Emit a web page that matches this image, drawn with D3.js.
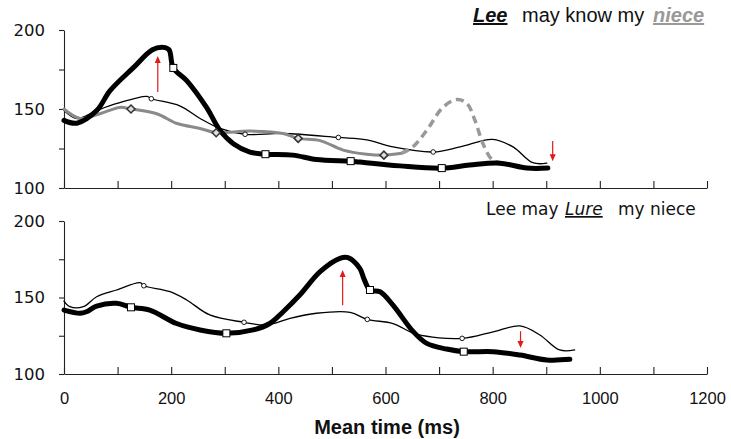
<!DOCTYPE html>
<html><head><meta charset="utf-8">
<script src="https://cdn.jsdelivr.net/npm/d3@7"></script>
<style>
body{margin:0;background:#fff;}
svg{display:block;}
</style></head>
<body><svg id="c" width="731" height="439"></svg>
<script>
// ---------- DATA ----------
const xTicks = [0,100,200,300,400,500,600,700,800,900,1000,1100,1200];
const xTickLabels = [0,200,400,600,800,1000,1200];
const yTicks = [100,125,150,175,200];
const yTickLabels = [100,150,200];

// Top panel: "Lee may know my niece"
const topThickT = [0,24,61,86,129,165,185,196,204,229,266,291,316,347,376,427,471,535,552,627,705,757,813,864,903];
const topThickV = [142.8,141,149,161.6,176,187.5,189,187.5,176,168,151,136.5,128,122.7,121.4,120.8,118,117,116.4,114,112.6,114.5,115.7,112.6,112.6];
const topThinT = [0,24,61,99,155,163,216,254,291,338,409,512,565,614,689,739,800,838,875,901];
const topThinV = [149,144,149,153.5,158,156.5,152,144,137.7,134,134.5,132,130.5,126,122.8,126,130.8,126,116,115.7];
const topGreyT = [0,30,67,104,125,173,211,254,284,347,409,437,478,521,565,597,630];
const topGreyV = [150,144,147,151,150,147,140.8,137.7,135,136,134.5,131.4,130,124,121.4,120.8,122];
const topGreyDashT = [630,651,677,707,733,752,767,782,800,823];
const topGreyDashV = [122,126,136.5,151,156,153.5,142.8,128,117.6,115.7];
const topSquares = [[204,176],[376,121.4],[535,117],[705,112.6]];
const topCircles = [[163,156.5],[338,134],[512,132],[689,122.8]];
const topDiamonds = [[125,150],[284,135],[437,131.4],[597,120.8]];
const topArrowUp = [175,160.8,183.5];   // t, from value, to value
const topArrowDown = [912,129.7,117];

// Bottom panel: "Lee may Lure my niece"
const botThickT = [0,30,42,61,98,125,160,210,254,303,353,384,409,440,478,515,530,552,560,571,590,614,652,677,714,746,801,851,901,944];
const botThickV = [141.8,139.7,140.7,144.4,146.2,143.6,141.8,133,128.8,126.6,128.8,133,140.7,151.6,166.9,175.6,176,169,162,154.9,153.8,145,127.6,120,116.3,114.6,114.6,112.4,109.2,109.6];
const botThinT = [0,11,36,61,98,142,149,198,229,272,336,378,422,471,534,566,614,658,743,801,851,888,925,953];
const botThinV = [147.7,144,144,150.5,154.9,159.7,157.7,153.8,148.4,138.6,133.8,132,136.4,139.7,140.3,135.7,133,126,123.3,127.6,131.4,125.5,115.7,115.7];
const botSquares = [[125,143.6],[303,126.6],[571,154.9],[746,114.6]];
const botCircles = [[149,157.7],[336,133.8],[566,135.7],[743,123.3]];
const botArrowUp = [520,145,168];
const botArrowDown = [852,128,117];

// ---------- DRAW ----------
const svg = d3.select("#c");
const x = d3.scaleLinear().domain([0,1200]).range([64,707]);
const yTop = d3.scaleLinear().domain([100,200]).range([188,30]);
const yBot = d3.scaleLinear().domain([100,200]).range([374,221]);

const zip = (t,v)=>t.map((d,i)=>[d,v[i]]);

function panel(y, showLabels){
  const g = svg.append("g");
  const yAxis = d3.axisLeft(y).tickValues(yTicks).tickSize(5).tickSizeOuter(0).tickPadding(14)
    .tickFormat(d=> yTickLabels.includes(d)? d : "");
  const ya = g.append("g").attr("transform",`translate(${x(0)},0)`).call(yAxis);
  ya.selectAll("text").attr("font-family","DejaVu Sans").attr("font-size","16.5px").attr("fill","#111");
  const xAxis = d3.axisBottom(x).tickValues(xTicks).tickSize(-7).tickSizeOuter(0).tickPadding(18)
    .tickFormat(d=> showLabels && xTickLabels.includes(d)? d : "");
  const xa = g.append("g").attr("transform",`translate(0,${y(100)})`).call(xAxis);
  xa.selectAll("text").attr("font-family","Liberation Sans").attr("font-size","16.5px").attr("fill","#111");
  [ya,xa].forEach(a=>{a.selectAll("path,line").attr("stroke","#222").attr("stroke-width",1.1);});
  return g;
}

const gTop = panel(yTop,false);
const gBot = panel(yBot,true);

function line(g, y, t, v, stroke, width, dash){
  const gen = d3.line().x(d=>x(d[0])).y(d=>y(d[1])).curve(d3.curveCatmullRom.alpha(0.5));
  const p = g.append("path").datum(zip(t,v)).attr("d",gen).attr("fill","none")
    .attr("stroke",stroke).attr("stroke-width",width).attr("stroke-linejoin","round").attr("stroke-linecap", dash?"butt":"round");
  if(dash) p.attr("stroke-dasharray",dash);
}
function squares(g,y,pts){
  g.selectAll(null).data(pts).enter().append("rect")
    .attr("x",d=>x(d[0])-3.5).attr("y",d=>y(d[1])-3.5).attr("width",7).attr("height",7)
    .attr("fill","#fff").attr("stroke","#000").attr("stroke-width",1);
}
function circles(g,y,pts){
  g.selectAll(null).data(pts).enter().append("circle")
    .attr("cx",d=>x(d[0])).attr("cy",d=>y(d[1])).attr("r",2.3)
    .attr("fill","#fff").attr("stroke","#000").attr("stroke-width",0.9);
}
function diamonds(g,y,pts){
  g.selectAll(null).data(pts).enter().append("path")
    .attr("d",d=>{const cx=x(d[0]),cy=y(d[1]),r=4;return `M${cx},${cy-r}L${cx+r},${cy}L${cx},${cy+r}L${cx-r},${cy}Z`;})
    .attr("fill","#ddd").attr("stroke","#333").attr("stroke-width",1.5);
}
function arrow(g,y,a){
  const ax=x(a[0]), y0=y(a[1]), y1=y(a[2]);
  const dir = y1<y0 ? -1 : 1;
  g.append("line").attr("x1",ax).attr("x2",ax).attr("y1",y0).attr("y2",y1-dir*6)
    .attr("stroke","#e21a1a").attr("stroke-width",1.2);
  g.append("path").attr("d",`M${ax-3},${y1-dir*7}L${ax+3},${y1-dir*7}L${ax},${y1}Z`).attr("fill","#e21a1a");
}

// top panel
line(gTop,yTop,topThinT,topThinV,"#000",1.3);
line(gTop,yTop,topGreyT,topGreyV,"#8a8a8a",3);
line(gTop,yTop,topGreyDashT,topGreyDashV,"#999",3.5,"8,5");
line(gTop,yTop,topThickT,topThickV,"#000",5);
circles(gTop,yTop,topCircles);
diamonds(gTop,yTop,topDiamonds);
squares(gTop,yTop,topSquares);
arrow(gTop,yTop,topArrowUp);
arrow(gTop,yTop,topArrowDown);

// bottom panel
line(gBot,yBot,botThinT,botThinV,"#000",1.3);
line(gBot,yBot,botThickT,botThickV,"#000",5);
circles(gBot,yBot,botCircles);
squares(gBot,yBot,botSquares);
arrow(gBot,yBot,botArrowUp);
arrow(gBot,yBot,botArrowDown);

// titles
const t1 = svg.append("g").attr("font-family","Liberation Sans").attr("font-size","20px");
t1.append("text").attr("x",473).attr("y",22).attr("font-weight","bold").attr("font-style","italic")
  .attr("text-decoration","underline").attr("fill","#111").text("Lee");
t1.append("text").attr("x",522).attr("y",22).attr("fill","#111").text("may know my");
t1.append("text").attr("x",653).attr("y",22).attr("font-weight","bold").attr("font-style","italic")
  .attr("text-decoration","underline").attr("fill","#999").text("niece");

const t2 = svg.append("g").attr("font-family","DejaVu Sans").attr("font-size","17px").attr("fill","#111");
t2.append("text").attr("x",486).attr("y",215).text("Lee may");
t2.append("text").attr("x",565).attr("y",215).attr("font-style","italic").attr("text-decoration","underline").text("Lure");
t2.append("text").attr("x",618).attr("y",215).text("my niece");

svg.append("text").attr("x",387).attr("y",434).attr("text-anchor","middle")
  .attr("font-family","Liberation Sans").attr("font-weight","bold").attr("font-size","20px").attr("fill","#111")
  .text("Mean time (ms)");
</script></body></html>
